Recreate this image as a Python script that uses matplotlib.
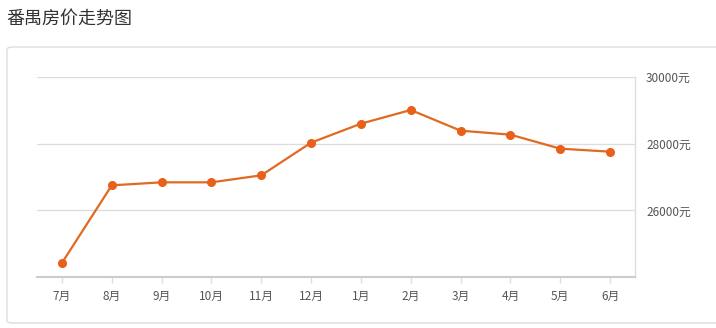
import matplotlib
matplotlib.use("Agg")
import matplotlib.pyplot as plt
from matplotlib.patches import FancyBboxPatch

plt.rcParams['font.family'] = ['Noto Sans CJK SC', 'DejaVu Sans']

months = ["7月", "8月", "9月", "10月", "11月", "12月", "1月", "2月", "3月", "4月", "5月", "6月"]
prices = [24420, 26750, 26840, 26840, 27050, 28030, 28600, 29010, 28390, 28270, 27850, 27760]
yticks = [26000, 28000, 30000]
ytick_labels = ["26000元", "28000元", "30000元"]
title = "番禺房价走势图"

W, H = 716, 328
fig = plt.figure(figsize=(W / 100, H / 100), dpi=100)
fig.patch.set_facecolor("white")

# outer panel box
box = FancyBboxPatch((7 / W, (H - 323) / H), (W + 10 - 7) / W, (323 - 47) / H,
                     boxstyle="round,pad=0,rounding_size=0.008",
                     transform=fig.transFigure, facecolor="white",
                     edgecolor="#dddddd", linewidth=1.0, zorder=-5)
fig.patches.append(box)

fig.text(6 / W, 1 - 19 / H, title, fontsize=13, color="#333333", va="center", ha="left")

ax = fig.add_axes([37 / W, (H - 277) / H, (635 - 37) / W, (277 - 77) / H])
ax.set_zorder(2)
ax.set_facecolor("none")
x = list(range(len(months)))
ax.plot(x, prices, color="#e06a20", linewidth=1.6, marker="o", markersize=5.5,
        markerfacecolor="#e8601a", markeredgecolor="#e8601a", zorder=3, clip_on=False)

ax.set_xlim(-0.5, len(months) - 0.5)
ax.set_ylim(24000, 30000)
ax.set_xticks(x)
ax.set_xticklabels(months)
ax.set_yticks(yticks)
ax.set_yticklabels(ytick_labels)
ax.yaxis.tick_right()
ax.grid(axis="y", color="#dcdcdc", linewidth=0.9)
ax.set_axisbelow(True)

for s in ["top", "left"]:
    ax.spines[s].set_visible(False)
ax.spines["right"].set_color("#dddddd")
ax.spines["right"].set_linewidth(1.0)
ax.spines["bottom"].set_color("#cccccc")
ax.spines["bottom"].set_linewidth(1.5)

ax.tick_params(axis="x", colors="#dddddd", labelcolor="#555555", labelsize=8.5, length=4, width=1, pad=5)
ax.tick_params(axis="y", length=0, labelcolor="#555555", labelsize=8.5, pad=8)

fig.savefig("out.png", dpi=100, facecolor="white")
